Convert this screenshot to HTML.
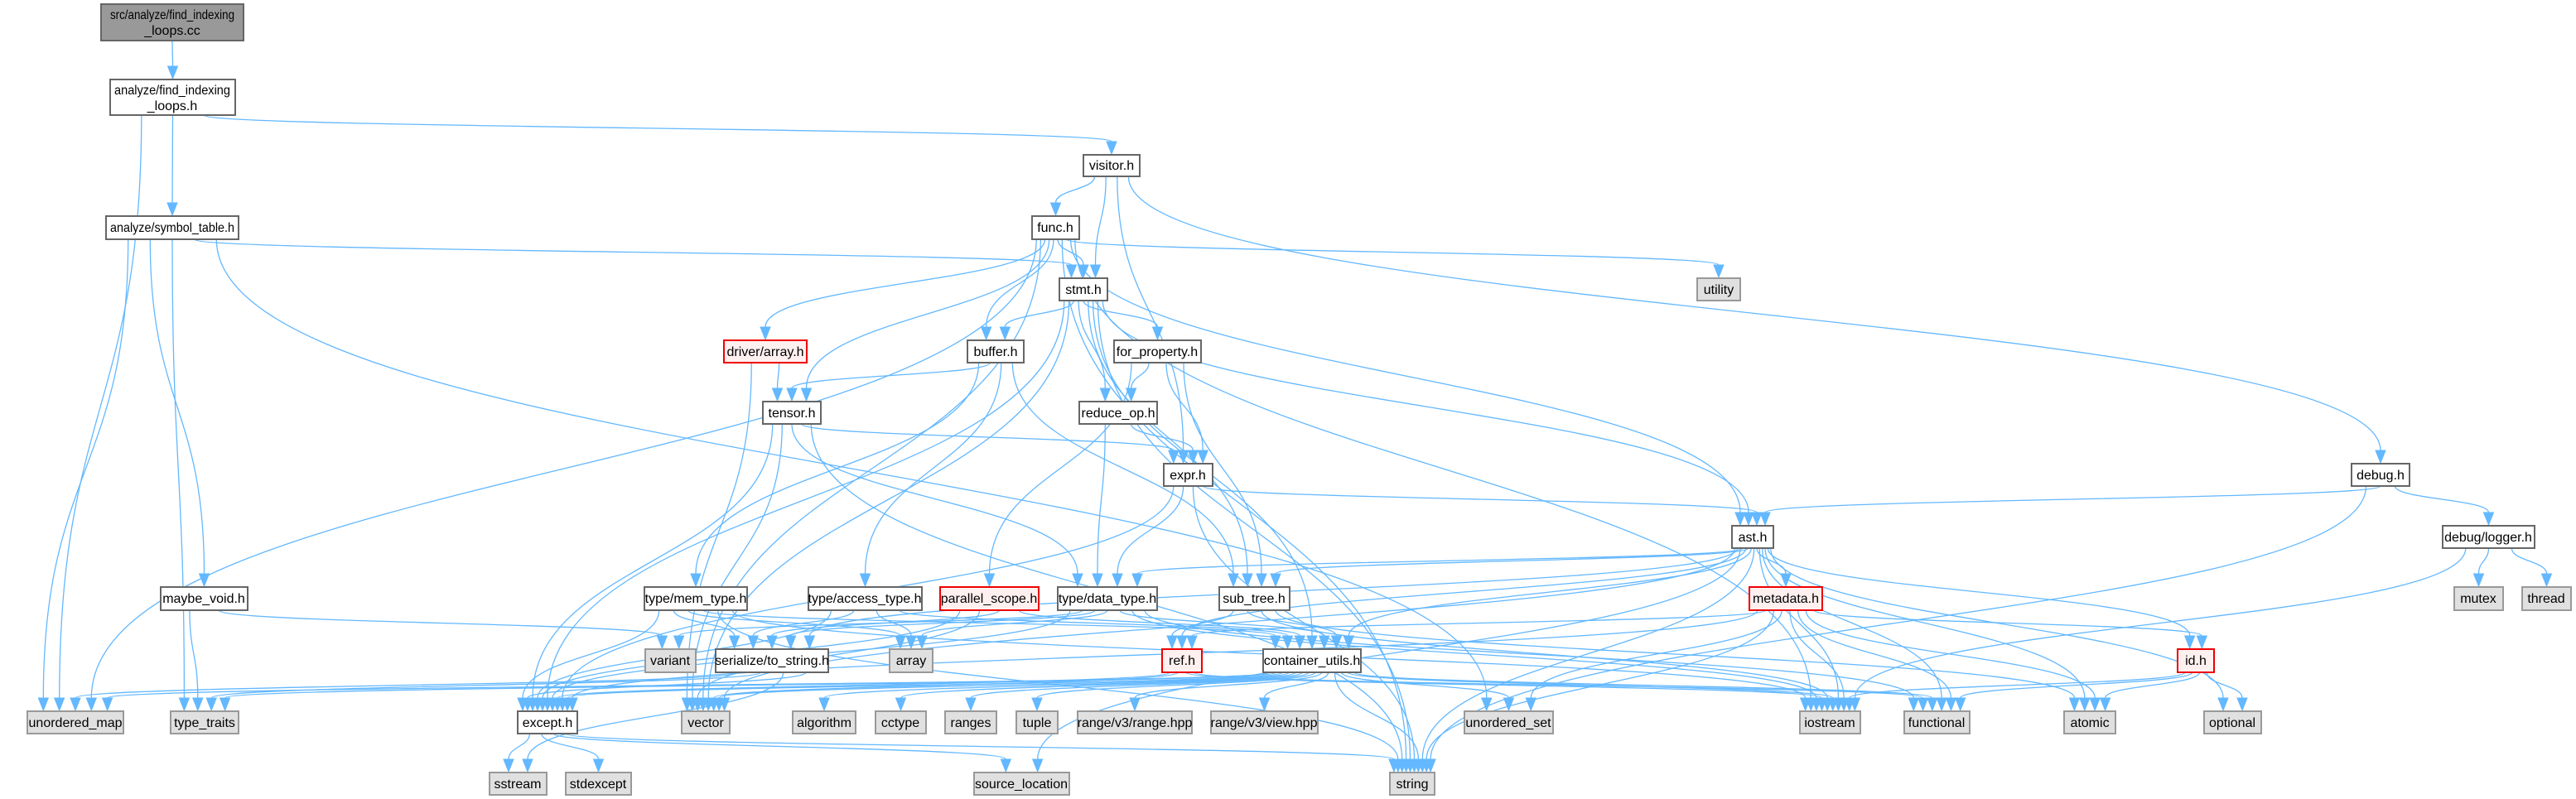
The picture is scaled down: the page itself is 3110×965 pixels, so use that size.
<!DOCTYPE html>
<html><head><meta charset="utf-8">
<style>
html,body{margin:0;padding:0;background:#fff;width:3110px;height:965px;overflow:hidden}
svg{display:block}
text{font-family:"Liberation Sans",sans-serif;font-size:16px;fill:#000}
.n rect{fill:#fff;stroke:#666;stroke-width:2}
.g rect{fill:#e0e0e0;stroke:#999;stroke-width:2}
.r rect{fill:#fff0f0;stroke:#e00;stroke-width:2}
.root rect{fill:#999;stroke:#666;stroke-width:2}
</style></head><body>
<svg id="s" width="3110" height="965" viewBox="0 0 3110 965" xmlns="http://www.w3.org/2000/svg">
<g id="edges"></g>
<g class="root"><rect x="122" y="5" width="172" height="44"/><text x="208" y="23" text-anchor="middle" textLength="150" lengthAdjust="spacingAndGlyphs">src/analyze/find_indexing</text><text x="208" y="42" text-anchor="middle">_loops.cc</text></g>
<g class="n"><rect x="133" y="96" width="151" height="43"/><text x="208" y="114" text-anchor="middle" textLength="140" lengthAdjust="spacingAndGlyphs">analyze/find_indexing</text><text x="208" y="133" text-anchor="middle">_loops.h</text></g>
<g class="n"><rect x="128" y="261" width="160" height="28"/><text x="208" y="280" text-anchor="middle" textLength="150" lengthAdjust="spacingAndGlyphs">analyze/symbol_table.h</text></g>
<g class="n"><rect x="194" y="709" width="105" height="28"/><text x="246" y="728" text-anchor="middle">maybe_void.h</text></g>
<g class="g"><rect x="33" y="859" width="116" height="27"/><text x="91" y="878" text-anchor="middle">unordered_map</text></g>
<g class="g"><rect x="206" y="859" width="82" height="27"/><text x="247" y="878" text-anchor="middle">type_traits</text></g>
<g class="n"><rect x="1308" y="187" width="68" height="26"/><text x="1342" y="205" text-anchor="middle">visitor.h</text></g>
<g class="n"><rect x="1246" y="261" width="57" height="28"/><text x="1274" y="280" text-anchor="middle">func.h</text></g>
<g class="n"><rect x="1279" y="336" width="58" height="27"/><text x="1308" y="355" text-anchor="middle">stmt.h</text></g>
<g class="g"><rect x="2049" y="336" width="52" height="27"/><text x="2075" y="355" text-anchor="middle">utility</text></g>
<g class="r"><rect x="874" y="411" width="100" height="27"/><text x="924" y="430" text-anchor="middle">driver/array.h</text></g>
<g class="n"><rect x="1168" y="411" width="68" height="27"/><text x="1202" y="430" text-anchor="middle">buffer.h</text></g>
<g class="n"><rect x="1345" y="411" width="105" height="27"/><text x="1397" y="430" text-anchor="middle">for_property.h</text></g>
<g class="n"><rect x="921" y="485" width="70" height="27"/><text x="956" y="504" text-anchor="middle">tensor.h</text></g>
<g class="n"><rect x="1303" y="485" width="94" height="27"/><text x="1350" y="504" text-anchor="middle">reduce_op.h</text></g>
<g class="n"><rect x="1405" y="560" width="59" height="27"/><text x="1434" y="579" text-anchor="middle">expr.h</text></g>
<g class="n"><rect x="2839" y="560" width="70" height="27"/><text x="2874" y="579" text-anchor="middle">debug.h</text></g>
<g class="n"><rect x="2091" y="635" width="50" height="27"/><text x="2116" y="654" text-anchor="middle">ast.h</text></g>
<g class="n"><rect x="2949" y="635" width="111" height="27"/><text x="3004" y="654" text-anchor="middle">debug/logger.h</text></g>
<g class="n"><rect x="778" y="709" width="124" height="28"/><text x="840" y="728" text-anchor="middle">type/mem_type.h</text></g>
<g class="n"><rect x="976" y="709" width="137" height="28"/><text x="1044" y="728" text-anchor="middle">type/access_type.h</text></g>
<g class="r"><rect x="1135" y="709" width="119" height="28"/><text x="1194" y="728" text-anchor="middle">parallel_scope.h</text></g>
<g class="n"><rect x="1277" y="709" width="120" height="28"/><text x="1337" y="728" text-anchor="middle">type/data_type.h</text></g>
<g class="n"><rect x="1472" y="709" width="85" height="28"/><text x="1514" y="728" text-anchor="middle">sub_tree.h</text></g>
<g class="r"><rect x="2112" y="709" width="88" height="28"/><text x="2156" y="728" text-anchor="middle">metadata.h</text></g>
<g class="g"><rect x="2963" y="709" width="59" height="28"/><text x="2992" y="728" text-anchor="middle">mutex</text></g>
<g class="g"><rect x="3045" y="709" width="59" height="28"/><text x="3074" y="728" text-anchor="middle">thread</text></g>
<g class="g"><rect x="779" y="784" width="61" height="28"/><text x="809" y="803" text-anchor="middle">variant</text></g>
<g class="n"><rect x="864" y="784" width="136" height="28"/><text x="932" y="803" text-anchor="middle">serialize/to_string.h</text></g>
<g class="g"><rect x="1074" y="784" width="52" height="28"/><text x="1100" y="803" text-anchor="middle">array</text></g>
<g class="r"><rect x="1403" y="784" width="48" height="28"/><text x="1427" y="803" text-anchor="middle">ref.h</text></g>
<g class="n"><rect x="1525" y="784" width="118" height="28"/><text x="1584" y="803" text-anchor="middle">container_utils.h</text></g>
<g class="r"><rect x="2629" y="784" width="44" height="28"/><text x="2651" y="803" text-anchor="middle">id.h</text></g>
<g class="n"><rect x="625" y="859" width="72" height="27"/><text x="661" y="878" text-anchor="middle">except.h</text></g>
<g class="g"><rect x="823" y="859" width="58" height="27"/><text x="852" y="878" text-anchor="middle">vector</text></g>
<g class="g"><rect x="957" y="859" width="76" height="27"/><text x="995" y="878" text-anchor="middle">algorithm</text></g>
<g class="g"><rect x="1057" y="859" width="61" height="27"/><text x="1087" y="878" text-anchor="middle">cctype</text></g>
<g class="g"><rect x="1141" y="859" width="62" height="27"/><text x="1172" y="878" text-anchor="middle">ranges</text></g>
<g class="g"><rect x="1227" y="859" width="50" height="27"/><text x="1252" y="878" text-anchor="middle">tuple</text></g>
<g class="g"><rect x="1301" y="859" width="138" height="27"/><text x="1370" y="878" text-anchor="middle">range/v3/range.hpp</text></g>
<g class="g"><rect x="1462" y="859" width="129" height="27"/><text x="1526" y="878" text-anchor="middle">range/v3/view.hpp</text></g>
<g class="g"><rect x="1768" y="859" width="107" height="27"/><text x="1821" y="878" text-anchor="middle">unordered_set</text></g>
<g class="g"><rect x="2173" y="859" width="73" height="27"/><text x="2209" y="878" text-anchor="middle">iostream</text></g>
<g class="g"><rect x="2299" y="859" width="79" height="27"/><text x="2338" y="878" text-anchor="middle">functional</text></g>
<g class="g"><rect x="2492" y="859" width="62" height="27"/><text x="2523" y="878" text-anchor="middle">atomic</text></g>
<g class="g"><rect x="2661" y="859" width="69" height="27"/><text x="2695" y="878" text-anchor="middle">optional</text></g>
<g class="g"><rect x="591" y="933" width="69" height="27"/><text x="625" y="952" text-anchor="middle">sstream</text></g>
<g class="g"><rect x="683" y="933" width="79" height="27"/><text x="722" y="952" text-anchor="middle">stdexcept</text></g>
<g class="g"><rect x="1176" y="933" width="115" height="27"/><text x="1233" y="952" text-anchor="middle">source_location</text></g>
<g class="g"><rect x="1678" y="933" width="54" height="27"/><text x="1705" y="952" text-anchor="middle">string</text></g>
</svg>
<script>
var N={root:[122,5,294,49],fil:[133,96,284,139],sym:[128,261,288,289],mv:[194,709,299,737],umap:[33,859,149,886],tt:[206,859,288,886],vis:[1308,187,1376,213],func:[1246,261,1303,289],stmt:[1279,336,1337,363],util:[2049,336,2101,363],darr:[874,411,974,438],buf:[1168,411,1236,438],forp:[1345,411,1450,438],tensor:[921,485,991,512],red:[1303,485,1397,512],expr:[1405,560,1464,587],debug:[2839,560,2909,587],ast:[2091,635,2141,662],logger:[2949,635,3060,662],mem:[778,709,902,737],acc:[976,709,1113,737],par:[1135,709,1254,737],dt:[1277,709,1397,737],sub:[1472,709,1557,737],meta:[2112,709,2200,737],mutex:[2963,709,3022,737],thread:[3045,709,3104,737],variant:[779,784,840,812],ser:[864,784,1000,812],arr:[1074,784,1126,812],ref:[1403,784,1451,812],cu:[1525,784,1643,812],id:[2629,784,2673,812],except:[625,859,697,886],vector:[823,859,881,886],alg:[957,859,1033,886],cctype:[1057,859,1118,886],ranges:[1141,859,1203,886],tuple:[1227,859,1277,886],rr:[1301,859,1439,886],rv:[1462,859,1591,886],uset:[1768,859,1875,886],ios:[2173,859,2246,886],fn:[2299,859,2378,886],atomic:[2492,859,2554,886],opt:[2661,859,2730,886],sstream:[591,933,660,960],stdex:[683,933,762,960],sloc:[1176,933,1291,960],str:[1678,933,1732,960]};
var E="root-fil fil-sym fil-vis fil-umap sym-stmt sym-umap sym-tt sym-mv sym-uset vis-func vis-stmt vis-expr vis-debug func-stmt func-buf func-darr func-tensor func-ast func-util func-umap func-ios func-str func-vector stmt-buf stmt-forp stmt-red stmt-ast stmt-cu stmt-str stmt-vector stmt-except stmt-sub darr-tensor darr-vector buf-tensor buf-mem buf-acc buf-sub forp-red forp-expr forp-sub forp-par tensor-expr tensor-dt tensor-except tensor-vector tensor-str red-expr red-dt expr-ast expr-dt expr-str expr-except debug-ast debug-logger debug-str logger-mutex logger-thread logger-ios ast-meta ast-id ast-sub ast-dt ast-ser ast-ios ast-fn ast-atomic ast-opt ast-str ast-sloc ast-ref ast-cu ast-vector meta-id meta-ios meta-fn meta-atomic meta-str meta-ref meta-uset meta-except id-ios id-fn id-atomic id-opt mem-ser mem-except mem-cu mem-arr mem-str mem-ios acc-ser acc-arr acc-except acc-cu par-ser par-except par-cu par-vector dt-ser dt-cu dt-except dt-arr dt-variant dt-ios dt-fn sub-ref sub-cu sub-ios sub-atomic ser-except ser-sstream ser-umap ser-tt ref-except ref-vector ref-ios ref-fn cu-alg cu-cctype cu-ranges cu-tuple cu-rr cu-rv cu-uset cu-str cu-except cu-vector cu-ios cu-fn cu-tt cu-umap mv-tt mv-variant except-sstream except-stdex except-str except-sloc".split(" ");
var outs={},ins={};
E.forEach(function(e){var p=e.split("-");(outs[p[0]]=outs[p[0]]||[]).push(e);(ins[p[1]]=ins[p[1]]||[]).push(e);});
function sortBy(list,idx){list.sort(function(a,b){var A=N[a.split("-")[idx]],B=N[b.split("-")[idx]];return (A[0]+A[2])-(B[0]+B[2]);});}
for(var k in outs)sortBy(outs[k],1);for(var k in ins)sortBy(ins[k],0);
var svg="";
E.forEach(function(e){var p=e.split("-"),s=N[p[0]],t=N[p[1]];
var so=outs[p[0]],ti=ins[p[1]];
var sw=s[2]-s[0],tw=t[2]-t[0];
var sx=s[0]+sw*(so.indexOf(e)+1)/(so.length+1),sy=s[3];
var tx=t[0]+tw*(ti.indexOf(e)+1)/(ti.length+1),ty=t[1]-16;
var dy=(ty-sy)*0.5;
svg+='<path d="M'+sx.toFixed(1)+','+sy+' C'+sx.toFixed(1)+','+(sy+dy).toFixed(1)+' '+tx.toFixed(1)+','+(ty-dy).toFixed(1)+' '+tx.toFixed(1)+','+ty.toFixed(1)+'" fill="none" stroke="#63b8ff" stroke-width="1.3"/>';
svg+='<polygon points="'+(tx-6)+','+ty+' '+(tx+6)+','+ty+' '+tx+','+(t[1]-1)+'" fill="#63b8ff" stroke="#63b8ff"/>';
});
document.getElementById("edges").innerHTML=svg;
</script>
</body></html>
